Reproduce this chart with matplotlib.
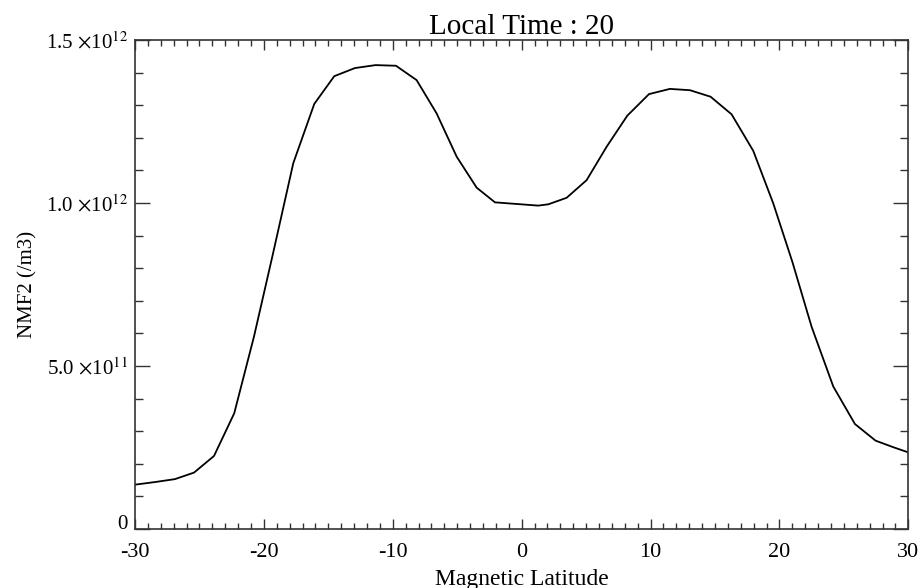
import numpy as np
import matplotlib.pyplot as plt
import matplotlib.transforms as mtransforms
from matplotlib.ticker import MultipleLocator, FixedLocator

# latitud magnetica (grados) y densidad NMF2 (/m3)
latitud = [-30.0, -28.45, -26.9, -25.42, -23.87, -22.3, -20.77, -19.32,
           -17.72, -16.09, -14.54, -12.93, -11.33, -9.75, -8.15, -6.6,
           -5.04, -3.49, -2.07, 1.29, 2.07, 3.49, 5.04, 6.6, 8.2, 9.88,
           11.5, 13.06, 14.66, 16.29, 17.97, 19.52, 21.0, 22.5, 24.18,
           25.86, 27.46, 28.9, 30.0]
nmf2 = [1.36, 1.44, 1.53, 1.73, 2.24, 3.55, 5.9, 8.4,
        11.22, 13.04, 13.89, 14.14, 14.23, 14.21, 13.77, 12.75,
        11.42, 10.47, 10.02, 9.92, 9.96, 10.16, 10.7, 11.73, 12.68, 13.34,
        13.5, 13.46, 13.26, 12.72, 11.6, 9.99, 8.2, 6.2, 4.37,
        3.22, 2.71, 2.5, 2.35]
nmf2 = np.array(nmf2) * 1e11

xticks = [-30, -20, -10, 0, 10, 20, 30]
xlabels = ['-30', '-20', '-10', '0', '10', '20', '30']
yticks = [0, 5e11, 1e12, 1.5e12]
ylabels = ['0', r'5.0 $\times$10$^{11}$', r'1.0 $\times$10$^{12}$', r'1.5 $\times$10$^{12}$']

plt.rcParams['font.family'] = ['Liberation Serif', 'DejaVu Serif']
plt.rcParams['mathtext.fontset'] = 'stix'
plt.rcParams['axes.unicode_minus'] = False

fig = plt.figure(figsize=(9.19, 5.88), dpi=100)
ax = fig.add_axes([135/919, 1-529/588, (908.3-135)/919, (529-40)/588])

ax.plot(latitud, nmf2, color='black', linewidth=1.3)

ax.set_xlim(-30, 30)
ax.set_ylim(0, 1.5e12)
ax.xaxis.set_major_locator(FixedLocator(xticks))
ax.xaxis.set_minor_locator(MultipleLocator(1))
ax.yaxis.set_major_locator(FixedLocator(yticks))
ax.yaxis.set_minor_locator(MultipleLocator(1e11))
ax.set_xticklabels(xlabels)
ax.set_yticklabels(ylabels)

ax.tick_params(axis='x', which='major', direction='in', length=7, width=1,
               top=True, labelsize=16, pad=10, colors='#333333', labelcolor='black')
ax.tick_params(axis='x', which='minor', direction='in', length=4, width=1,
               top=True, colors='#333333')
ax.tick_params(axis='y', which='major', direction='in', length=11, width=1,
               right=True, labelsize=15, pad=5, colors='#333333', labelcolor='black')
ax.tick_params(axis='y', which='minor', direction='in', length=6, width=1,
               right=True, colors='#333333')
for s in ax.spines.values():
    s.set_color('#333333')
    s.set_linewidth(1.2)

# el "0" del eje y queda apoyado sobre el eje
lab0 = ax.yaxis.get_major_ticks()[0].label1
lab0.set_transform(lab0.get_transform() + mtransforms.ScaledTranslation(0, 5/72, fig.dpi_scale_trans))

ax.set_title('Local Time : 20', fontsize=21, pad=2)
ax.set_xlabel('Magnetic Latitude', fontsize=17, labelpad=5)
ax.set_ylabel('NMF2 (/m3)', fontsize=15, labelpad=6)

fig.savefig('out.png', dpi=100)
